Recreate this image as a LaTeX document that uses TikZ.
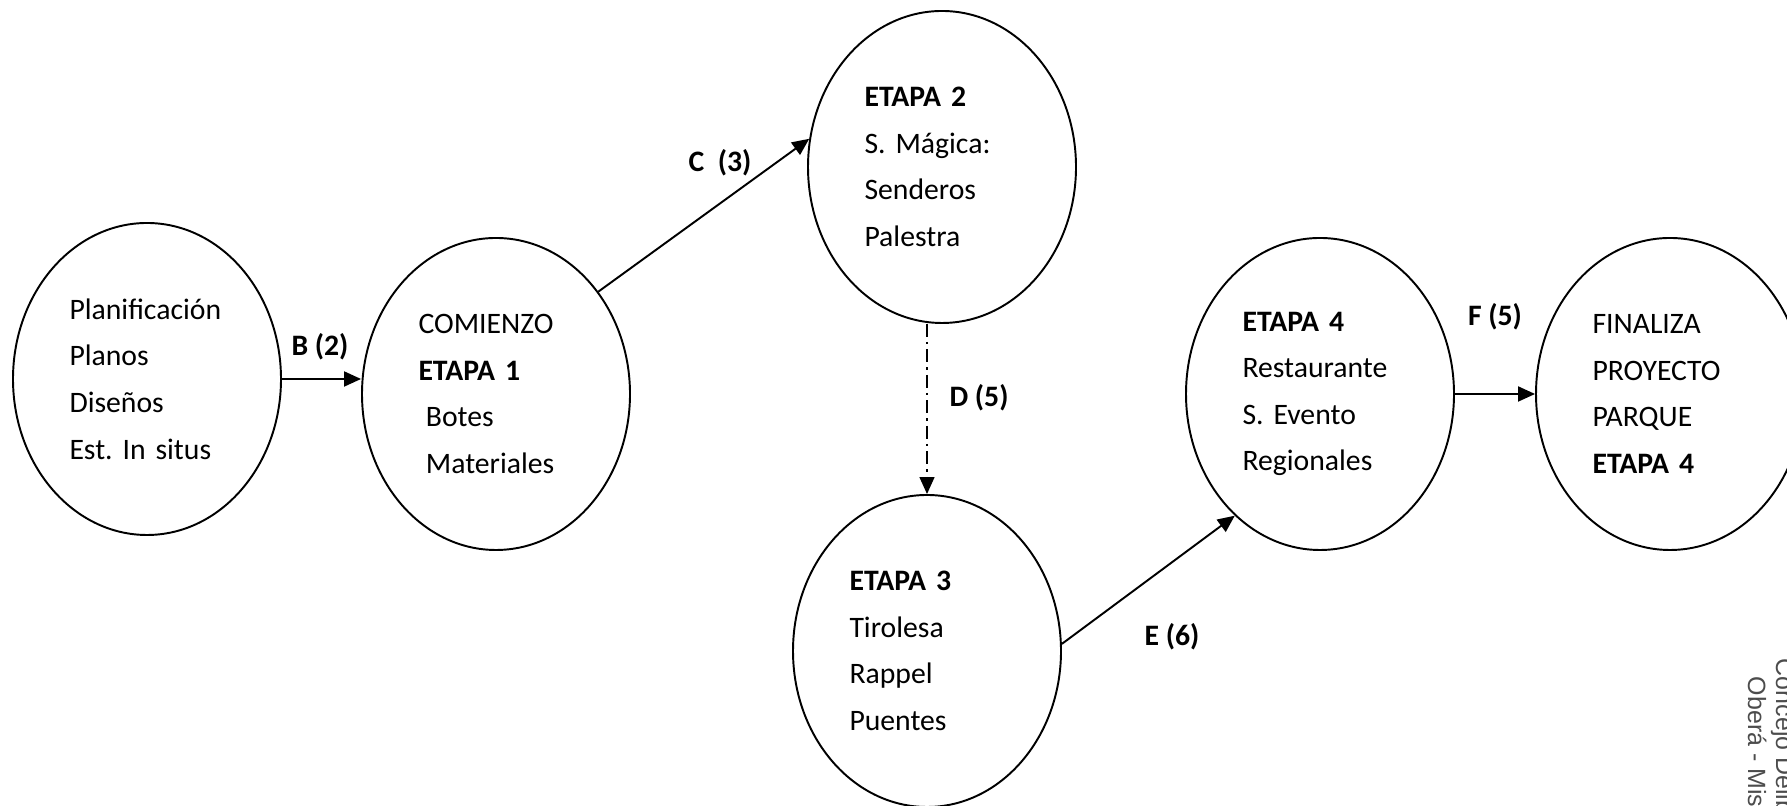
\documentclass[tikz,border=0pt]{standalone}
\usepackage{fontspec}
\setmainfont{Carlito}
\newfontfamily\sellofont{Liberation Sans}
\usetikzlibrary{shapes.geometric,arrows.meta,positioning}
\frenchspacing

\begin{document}
\begin{tikzpicture}[
    etapa/.style={draw, ellipse, line width=1.1pt, minimum width=5.36cm, minimum height=6.24cm,
        inner sep=0pt, text width=3.1cm, align=left, font=\fontsize{16.9}{26.5}\selectfont},
    flecha/.style={-{Triangle[length=3.4mm,width=3mm]}, line width=1.1pt},
    rotulo/.style={font=\fontsize{16.9}{20}\selectfont\bfseries}]
    \useasboundingbox (0,0) rectangle (35.74,16.12);
    \clip (0,0) rectangle (35.74,16.12);
    \node[etapa] (plan) at (2.94,8.54) {Planificación\\Planos\\Diseños\\Est. In situs};
    \node[etapa] (etapa1) at (9.92,8.24) {COMIENZO\\\textbf{ETAPA 1}\\\hspace*{0.25em}Botes\\\hspace*{0.25em}Materiales};
    \node[etapa] (etapa2) at (18.84,12.78) {\textbf{ETAPA 2}\\S. Mágica:\\Senderos\\Palestra};
    \node[etapa] (etapa3) at (18.54,3.10) {\textbf{ETAPA 3}\\Tirolesa\\Rappel\\Puentes};
    \node[etapa] (etapa4) at (26.40,8.24) {\textbf{ETAPA 4}\\Restaurante\\S. Evento\\Regionales};
    \node[etapa] (fin) at (33.40,8.24) {FINALIZA\\PROYECTO\\PARQUE\\\textbf{ETAPA 4}};
    \node[rotulo] (lb) at (6.40,9.18) {B (2)};
    \node[rotulo] (lc) at (14.40,12.86) {C\ \ (3)};
    \node[rotulo] (ld) at (19.58,8.16) {D (5)};
    \node[rotulo] (le) at (23.44,3.38) {E (6)};
    \node[rotulo] (lf) at (29.90,9.78) {F (5)};
    \draw[flecha] (plan.east) -- (plan.east -| etapa1.west);
    \draw[flecha] (etapa1.45) -- (etapa2.168);
    \draw[flecha, line width=0.8pt, dash pattern=on 2.6mm off 1mm on 0.5mm off 1mm]
        (etapa3.north |- etapa2.south) -- (etapa3.north);
    \draw[flecha] (etapa3.3) -- (etapa4.235);
    \draw[flecha] (etapa4.east) -- (fin.west);
    \node[rotate=-90, align=center, text=black!70, font=\sellofont\fontsize{14.2}{15.9}\selectfont]
        (sello) at (35.42,0.68) {Concejo Deliberante\\Oberá - Misiones};
\end{tikzpicture}
\end{document}
